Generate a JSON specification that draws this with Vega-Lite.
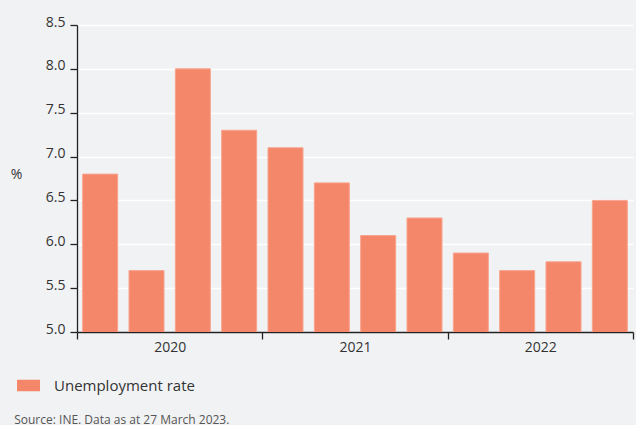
{
  "$schema": "https://vega.github.io/schema/vega-lite/v6.json",
  "autosize": {"type": "none"},
  "width": 556,
  "height": 307,
  "padding": {"left": 77, "top": 25, "right": 3, "bottom": 93},
  "background": "#f1f2f4",
  "config": {
    "view": {"stroke": null},
    "font": "Open Sans"
  },
  "title": {
    "text": "Source: INE. Data as at 27 March 2023.",
    "orient": "bottom",
    "anchor": "start",
    "frame": "bounds",
    "baseline": "alphabetic",
    "fontSize": 12,
    "fontWeight": "normal",
    "color": "#555555",
    "font": "Open Sans",
    "dx": 4,
    "offset": 30
  },
  "data": {
    "values": [
      {"quarter": 2020.125, "rate": 6.8, "series": "Unemployment rate"},
      {"quarter": 2020.375, "rate": 5.7, "series": "Unemployment rate"},
      {"quarter": 2020.625, "rate": 8.0, "series": "Unemployment rate"},
      {"quarter": 2020.875, "rate": 7.3, "series": "Unemployment rate"},
      {"quarter": 2021.125, "rate": 7.1, "series": "Unemployment rate"},
      {"quarter": 2021.375, "rate": 6.7, "series": "Unemployment rate"},
      {"quarter": 2021.625, "rate": 6.1, "series": "Unemployment rate"},
      {"quarter": 2021.875, "rate": 6.3, "series": "Unemployment rate"},
      {"quarter": 2022.125, "rate": 5.9, "series": "Unemployment rate"},
      {"quarter": 2022.375, "rate": 5.7, "series": "Unemployment rate"},
      {"quarter": 2022.625, "rate": 5.8, "series": "Unemployment rate"},
      {"quarter": 2022.875, "rate": 6.5, "series": "Unemployment rate"}
    ]
  },
  "mark": {"type": "bar", "size": 35, "stroke": "#f8a48e", "strokeWidth": 1, "clip": true},
  "encoding": {
    "x": {
      "field": "quarter",
      "type": "quantitative",
      "scale": {"domain": [2020, 2023], "nice": false, "zero": false, "padding": 0},
      "axis": {
        "title": null,
        "values": [2020, 2021, 2022, 2023],
        "format": "d",
        "labelExpr": "datum.value == 2023 ? '' : datum.label",
        "labelOffset": 92.7,
        "labelFontSize": 14,
        "labelColor": "#333333",
        "labelPadding": 1,
        "grid": false,
        "domainColor": "#222222",
        "domainWidth": 1.3,
        "tickColor": "#222222",
        "tickWidth": 1.3,
        "tickSize": 7,
        "labelFlush": false,
        "labelOverlap": false
      }
    },
    "y": {
      "field": "rate",
      "type": "quantitative",
      "scale": {"domain": [5.0, 8.5], "nice": false, "zero": false},
      "axis": {
        "title": "%",
        "titleAngle": 0,
        "titleAlign": "center",
        "titleBaseline": "middle",
        "titleX": -61,
        "titleY": 149,
        "titleFontSize": 14,
        "titleFontWeight": "normal",
        "titleColor": "#333333",
        "values": [5.0, 5.5, 6.0, 6.5, 7.0, 7.5, 8.0, 8.5],
        "format": ".1f",
        "labelFontSize": 14,
        "labelColor": "#333333",
        "labelPadding": 5,
        "labelBaseline": "middle",
        "labelOffset": -3,
        "grid": true,
        "gridColor": "#ffffff",
        "gridWidth": 1.5,
        "domainColor": "#222222",
        "domainWidth": 1.3,
        "tickColor": "#222222",
        "tickWidth": 1.3,
        "tickSize": 7
      }
    },
    "color": {
      "field": "series",
      "type": "nominal",
      "scale": {"range": ["#f4866a"]},
      "legend": {
        "title": null,
        "orient": "none",
        "legendX": -60,
        "legendY": 349,
        "symbolType": "M-1,-0.5H1V0.5H-1Z",
        "symbolSize": 529,
        "symbolStrokeWidth": 0,
        "labelFontSize": 15,
        "labelColor": "#333333",
        "labelOffset": 14,
        "labelFont": "Open Sans"
      }
    }
  }
}
